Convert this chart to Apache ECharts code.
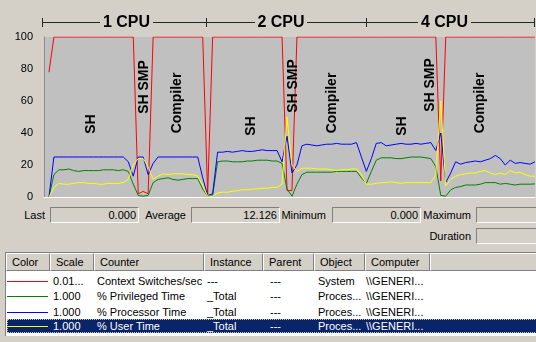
<!DOCTYPE html>
<html><head><meta charset="utf-8">
<script src="https://cdn.jsdelivr.net/npm/echarts@6/dist/echarts.min.js"></script>
<style>
html,body{margin:0;padding:0;background:#D4D0C8;width:536px;height:342px;overflow:hidden;font-family:"Liberation Sans",Arial,sans-serif;font-size:11px;color:#000;}
#chart{position:absolute;left:0;top:0;width:536px;height:206px;}
.lbl{position:absolute;height:16px;line-height:16px;white-space:nowrap;}
.box{position:absolute;height:14px;line-height:14px;border-top:1px solid #808080;border-left:1px solid #808080;border-bottom:1px solid #fff;border-right:1px solid #fff;text-align:right;padding-right:2px;box-sizing:content-box;}
#list{position:absolute;left:5px;top:252px;width:540px;height:83px;border-top:1px solid #808080;border-left:1px solid #808080;background:#fff;overflow:hidden;}
#hdr{position:absolute;left:0;top:0;width:540px;height:18px;background:#D4D0C8;}
.hc{position:absolute;top:0;height:16px;line-height:17px;border-top:1px solid #fff;border-left:1px solid #fff;border-right:1px solid #808080;border-bottom:1px solid #808080;padding-left:5px;box-sizing:content-box;white-space:nowrap;}
.cell{position:absolute;height:15px;line-height:15px;white-space:nowrap;}
.sw{position:absolute;height:1px;}
#sel{position:absolute;left:1px;top:66px;width:540px;height:14px;background:#0A246A;outline:1px dotted #c8c8a0;outline-offset:-1px;}
</style>
</head><body>
<div id="chart"></div>
<div id="stats"></div>
<div id="list"><div id="hdr"></div><div id="sel"></div></div>
<script>
// ---- data ----
const samples = Array.from({length: 100}, (_, i) => i + 1);
const yTicks = [0, 20, 40, 60, 80, 100];
const contextSwitches = [null,78,100,100,100,100,100,100,100,100,
  100,100,100,100,100,100,100,100,100,2,
  3.5,2,100,100,100,100,100,100,100,100,
  100,100,100,2,100,100,100,100,100,100,
  100,100,100,100,100,100,100,100,100,4,
  4,100,100,100,100,100,100,100,100,100,
  100,100,100,100,100,100,100,100,100,100,
  100,100,100,100,100,100,100,100,100,100,
  10,100,100,100,100,100,100,100,100,100,
  100,100,100,100,100,100,100,100,100,100];
const privilegedTime = [null,0,14,17,17,17.5,16.5,16,16.5,16.5,
  16.5,16.5,17,17,17,16.5,17,16,8,1,
  0.5,1,9,11,11.5,12,11,10.5,11,11.5,
  11.5,11.5,5,0.5,1,22,22.5,22.5,22,22,
  22,22.5,22.5,23,23,23,22.5,22.5,21,5,
  0.5,8,14,15.5,15.5,15.5,15.5,15.5,15.5,16,
  16,16,16,16,12,8.5,16,23,24.5,24.5,
  24.5,24,24,24.5,25,25,25,24.5,24,19,
  1,0.5,4.5,6,6.5,7.5,7.5,7.5,8,9,
  9,9,8,8.5,8,7.5,8,8,8,8.2];
const processorTime = [null,0,25,25,25,25,25,25,25,25,
  25,25,25,25,25,25,25,22,13,25,
  25,14,21,25,25,25,25,25,25,25,
  25,25,12,1,2,28,28,28.5,28,28.5,
  29,28.5,28.5,29,29.5,29,29,29,22,38,
  15,20,32,33,32.5,32,32.5,33,33,33.5,
  33,33,33,34,25,16,24,33.5,34,32,
  32.5,33,33.5,33,33,33.5,33,33.5,34,29,
  40,9,15,22,20.5,21.5,22,22.5,22,23,
  24,26,24,20,23,21,21.5,21,20.5,22];
const userTime = [null,0,6,8.5,8,8,8.5,9,9,8.5,
  8.5,8,8,8.5,8.5,8.5,9,11,20,24,
  24,19,11,13,14.5,14,14.5,14.5,14.5,14,
  14,13,7,0.5,0.5,2.5,3,3,3.5,4,
  4.5,4.5,5,5,5.5,5.5,6,6,8,50,
  20,16,18,18,18,17.5,17.5,17.5,17,16.5,
  17,17,17.5,17.5,14,8,8,8.5,9,9,
  9.5,9,8.5,9,9,9,9,9,9,14,
  60,7,11,13,14,14.5,15,15,16,16.5,
  15,14,15,14,16.5,15,15.5,14,13,13];
const cpuGroups = ["1 CPU", "2 CPU", "4 CPU"];
const phaseLabels = ["SH", "SH SMP", "Compiler", "SH", "SH SMP", "Compiler", "SH", "SH SMP", "Compiler"];
const statNames = ["Last", "Average", "Minimum", "Maximum", "Duration"];
const statValues = ["0.000", "12.126", "0.000", "", ""];
const headers = ["Color", "Scale", "Counter", "Instance", "Parent", "Object", "Computer"];
const counterColors = ["#FF0000", "#008000", "#0000FF", "#FFFF00"];
const counterScales = ["0.01...", "1.000", "1.000", "1.000"];
const counterNames = ["Context Switches/sec", "% Privileged Time", "% Processor Time", "% User Time"];
const counterInstances = ["---", "_Total", "_Total", "_Total"];
const counterParents = ["---", "---", "---", "---"];
const counterObjects = ["System", "Proces...", "Proces...", "Proces..."];
const counterComputers = ["\\\\GENERI...", "\\\\GENERI...", "\\\\GENERI...", "\\\\GENERI..."];

// ---- chart ----
const chart = echarts.init(document.getElementById('chart'), null, {renderer: 'canvas'});
const seriesData = [contextSwitches, privilegedTime, processorTime, userTime];
const bracketColor = '#1E2A1E';
const labelFont = 'bold 14px "Liberation Sans", Arial, sans-serif';
const cpuFont = 'bold 16px "Liberation Sans", Arial, sans-serif';
const phasePos = [[91,124],[144,87],[177,103],[251,126],[293,86],[332,103],[402,126],[430,85],[480,103]];
const cpuPos = [126.5, 281, 444.5];
const segs = [[42,100],[153,206],[206,255],[307,366],[366,418],[471,534]];
const ticksX = [42, 206, 366, 534];
const graphic = [];
segs.forEach(s => graphic.push({type:'line', silent:true, shape:{x1:s[0], y1:22.5, x2:s[1], y2:22.5}, style:{stroke:bracketColor, lineWidth:1}}));
ticksX.forEach(x => graphic.push({type:'line', silent:true, shape:{x1:x+0.5, y1:18, x2:x+0.5, y2:27}, style:{stroke:bracketColor, lineWidth:1}}));
cpuGroups.forEach((t, i) => graphic.push({type:'text', silent:true, x:cpuPos[i], y:23, style:{text:t, font:cpuFont, fill:'#000', align:'center', verticalAlign:'middle'}}));
phaseLabels.forEach((t, i) => graphic.push({type:'text', silent:true, x:phasePos[i][0], y:phasePos[i][1], rotation:Math.PI/2, z:10, style:{text:t, font:labelFont, fill:'#000', align:'center', verticalAlign:'middle'}}));

chart.setOption({
  animation: false,
  grid: {left:44, top:37, width:491, height:160, show:true, backgroundColor:'#C0C0C0', borderWidth:0},
  xAxis: {type:'category', data:samples, boundaryGap:false,
    axisLine:{show:true, lineStyle:{color:'#FFFFFF', width:1}}, axisTick:{show:false}, axisLabel:{show:false}, splitLine:{show:false}},
  yAxis: {type:'value', min:yTicks[0], max:yTicks[yTicks.length-1], interval:yTicks[1]-yTicks[0],
    axisLine:{show:true, lineStyle:{color:'#8C8C8C', width:1}}, axisTick:{show:false},
    axisLabel:{color:'#000', fontSize:11, fontFamily:'"Liberation Sans", Arial, sans-serif', margin:11},
    splitLine:{show:false}},
  series: seriesData.map((d, i) => ({
    type:'line', data:d, symbol:'none', silent:true, connectNulls:false,
    lineStyle:{color:counterColors[i], width:1}, z:2+i
  })),
  graphic: graphic
});

// ---- statistics ----
const stats = document.getElementById('stats');
const statLayout = [
  {lx:0, lw:45, y:207, bx:50, bw:85},
  {lx:0, lw:186, y:207, bx:191, bw:85},
  {lx:0, lw:326, y:207, bx:332, bw:85},
  {lx:0, lw:471, y:207, bx:476, bw:80},
  {lx:0, lw:471, y:228, bx:476, bw:80}
];
statNames.forEach((n, i) => {
  const L = statLayout[i];
  const l = document.createElement('div');
  l.className = 'lbl'; l.textContent = n;
  l.style.left = L.lx + 'px'; l.style.width = L.lw + 'px'; l.style.textAlign = 'right'; l.style.top = L.y + 'px';
  stats.appendChild(l);
  const b = document.createElement('div');
  b.className = 'box'; b.textContent = statValues[i];
  b.style.left = L.bx + 'px'; b.style.width = L.bw + 'px'; b.style.top = (L.y) + 'px';
  stats.appendChild(b);
});

// ---- counter list ----
const hdr = document.getElementById('hdr');
const colEdges = [0, 44, 88, 198, 257, 308, 359, 424, 560];
const hdrTexts = headers.concat([""]);
hdrTexts.forEach((t, i) => {
  const c = document.createElement('div');
  c.className = 'hc'; c.textContent = t;
  c.style.left = colEdges[i] + 'px';
  c.style.width = (colEdges[i+1] - colEdges[i] - 7) + 'px';
  hdr.appendChild(c);
});
const list = document.getElementById('list');
const rowTop = [21, 36, 51.5, 66];
const colX = [47, 91, 201, 264, 312, 360];
counterNames.forEach((n, r) => {
  const selected = (r === 3);
  const color = selected ? '#FFFFFF' : '#000000';
  const sw = document.createElement('div');
  sw.className = 'sw'; sw.style.left = '1px'; sw.style.width = '41px';
  sw.style.top = (rowTop[r] + 7) + 'px'; sw.style.background = counterColors[r];
  list.appendChild(sw);
  const vals = [counterScales[r], n, counterInstances[r], counterParents[r], counterObjects[r], counterComputers[r]];
  vals.forEach((v, c) => {
    const d = document.createElement('div');
    d.className = 'cell'; d.textContent = v;
    d.style.left = colX[c] + 'px'; d.style.top = rowTop[r] + 'px'; d.style.color = color;
    list.appendChild(d);
  });
});
</script>
</body></html>
